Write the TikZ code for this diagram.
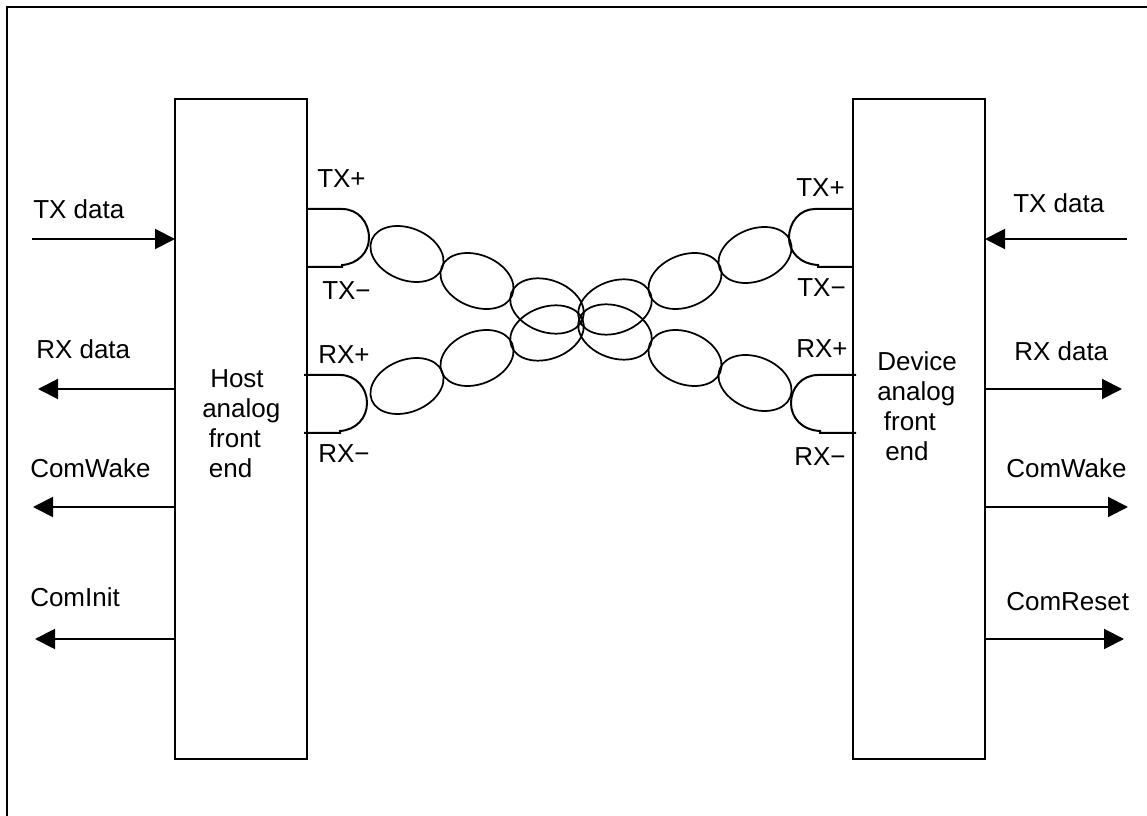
\documentclass[tikz,border=0pt]{standalone}
\usepackage{fontspec}
\setmainfont{Liberation Sans}
\usetikzlibrary{arrows.meta}
\tikzset{
    block/.style={draw, line width=1.5pt, minimum width=99pt, minimum height=495pt, inner sep=0pt, outer sep=0pt},
    lab/.style={anchor=base west, inner sep=0pt, font=\fontsize{19.5}{22.5}\selectfont},
    blocklab/.style={lab, align=left},
    sig/.style={line width=1.5pt, -{Triangle[length=15pt, width=15pt]}},
    pair/.style={line width=1.5pt},
    twist/.style={line width=1.3pt}
}
\begin{document}
\begin{tikzpicture}[x=0.75pt, y=-0.75pt]
            \useasboundingbox (0, 0) rectangle (1147, 816);
            \coordinate (framebl) at (7, 816);
            \coordinate (frametl) at (7, 7);
            \coordinate (frametr) at (1147, 7);
            \draw [line width=1.5pt] (framebl) -- (frametl) -- (frametr);
            \node [block] (host) at (241, 429) {};
            \node [block] (device) at (919, 429) {};
            \node [blocklab] (hostlab) at (202, 478) {\hspace*{6pt}Host\\analog\\\hspace*{5pt}front\\\hspace*{5pt}end};
            \node [blocklab] (devicelab) at (877, 461) {Device\\analog\\\hspace*{5pt}front\\\hspace*{6pt}end};
            \coordinate (txlfree) at (32, 239);
            \coordinate (rxlfree) at (38, 389);
            \coordinate (wakelfree) at (33, 507);
            \coordinate (initlfree) at (35, 639);
            \coordinate (txrfree) at (1127, 239);
            \coordinate (rxrfree) at (1122, 389);
            \coordinate (wakerfree) at (1128, 507);
            \coordinate (resetrfree) at (1124, 639);
            \draw [sig] (txlfree) -- (host.west |- txlfree);
            \draw [sig] (host.west |- rxlfree) -- (rxlfree);
            \draw [sig] (host.west |- wakelfree) -- (wakelfree);
            \draw [sig] (host.west |- initlfree) -- (initlfree);
            \draw [sig] (txrfree) -- (device.east |- txrfree);
            \draw [sig] (device.east |- rxrfree) -- (rxrfree);
            \draw [sig] (device.east |- wakerfree) -- (wakerfree);
            \draw [sig] (device.east |- resetrfree) -- (resetrfree);
            \node [lab] (txldata) at (33, 219) {TX data};
            \node [lab] (rxldata) at (36, 359) {RX data};
            \node [lab] (wakel) at (30, 478) {ComWake};
            \node [lab] (initl) at (30, 607) {ComInit};
            \node [lab] (txrdata) at (1013, 213) {TX data};
            \node [lab] (rxrdata) at (1014, 361) {RX data};
            \node [lab] (waker) at (1006, 478) {ComWake};
            \node [lab] (resetr) at (1006, 611) {ComReset};
            \node [lab] (hosttxp) at (317, 188) {TX+};
            \node [lab] (hosttxm) at (322, 300) {TX−};
            \node [lab] (hostrxp) at (318, 364) {RX+};
            \node [lab] (hostrxm) at (318, 463) {RX−};
            \node [lab] (devtxp) at (796, 197) {TX+};
            \node [lab] (devtxm) at (797, 297) {TX−};
            \node [lab] (devrxp) at (796, 358) {RX+};
            \node [lab] (devrxm) at (794, 466) {RX−};
            \draw [pair] (host.east |- 0, 209) -- (342, 209)
                .. controls (358, 209) and (369, 222) .. (369, 238)
                .. controls (369, 252) and (358, 264) .. (342, 265)
                -- (342, 267) -- (host.east |- 0, 267);
            \draw [pair] (304, 375) -- (340, 375)
                .. controls (356, 375) and (367, 388) .. (367, 403)
                .. controls (367, 418) and (356, 430) .. (340, 431)
                -- (340, 433) -- (304, 433);
            \draw [pair] (device.west |- 0, 209) -- (815, 209)
                .. controls (800, 209) and (789, 222) .. (789, 238)
                .. controls (789, 252) and (800, 264) .. (818, 265)
                -- (818, 267) -- (device.west |- 0, 267);
            \draw [pair] (856, 375) -- (818, 375)
                .. controls (802, 375) and (791, 388) .. (791, 403)
                .. controls (791, 418) and (802, 430) .. (820, 431)
                -- (820, 433) -- (856, 433);
            \foreach \cx/\cy/\tilt in {407/254/-22, 477/281/-22, 547/306/-20,
                                       407/386/22, 477/358/22, 547/333/20,
                                       755/255/22, 685/281/22, 615/307/20,
                                       755/383/-22, 685/358/-22, 615/332/-20} {
                \draw [twist] (\cx, \cy) ellipse [x radius=38, y radius=26, rotate=\tilt];
            }
\end{tikzpicture}
\end{document}
